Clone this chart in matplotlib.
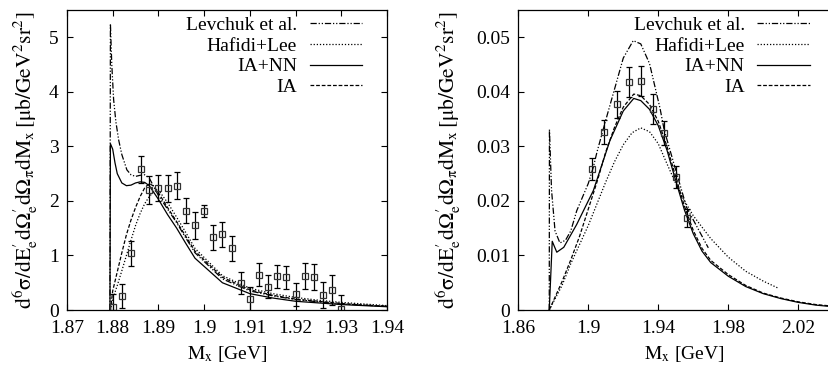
import matplotlib
matplotlib.use("Agg")
import matplotlib.pyplot as plt

# —— fonts: Times-like, as in the gnuplot original —— #
plt.rcParams['font.family'] = ['Liberation Serif', 'DejaVu Serif']
plt.rcParams['mathtext.fontset'] = 'stix'
FS = 14

# ================= left panel: data ================= #
L_DATA_X = [1.8800, 1.8821, 1.8841, 1.8861, 1.8880, 1.8900, 1.8920, 1.8941, 1.8960,
            1.8980, 1.9000, 1.9020, 1.9040, 1.9060, 1.9080, 1.9100, 1.9120, 1.9140,
            1.9160, 1.9180, 1.9200, 1.9220, 1.9240, 1.9260, 1.9280, 1.9300]
L_DATA_Y = [0.05, 0.25, 1.04, 2.58, 2.20, 2.23, 2.23, 2.28, 1.82,
            1.55, 1.82, 1.33, 1.39, 1.13, 0.50, 0.20, 0.65, 0.43,
            0.62, 0.60, 0.29, 0.62, 0.60, 0.28, 0.37, 0.01]
L_DATA_ERR = [0.24, 0.22, 0.23, 0.25, 0.25, 0.24, 0.25, 0.25, 0.23,
              0.24, 0.11, 0.23, 0.23, 0.23, 0.20, 0.22, 0.21, 0.21,
              0.21, 0.21, 0.21, 0.24, 0.24, 0.24, 0.27, 0.26]

L_LEV_X = [1.8794, 1.8795, 1.8798, 1.8802, 1.8807, 1.8813, 1.882, 1.8831, 1.884, 1.885,
           1.886, 1.887, 1.888, 1.890, 1.892, 1.894, 1.896, 1.898, 1.904, 1.910,
           1.915, 1.920, 1.925, 1.930, 1.935, 1.940]
L_LEV_Y = [0.0, 5.25, 4.50, 3.86, 3.45, 3.12, 2.85, 2.57, 2.48, 2.45,
           2.47, 2.48, 2.42, 2.10, 1.85, 1.60, 1.32, 1.05, 0.57, 0.35,
           0.26, 0.19, 0.15, 0.11, 0.09, 0.065]

L_NN_X = [1.8794, 1.8795, 1.8800, 1.8805, 1.881, 1.882, 1.883, 1.884, 1.885, 1.886,
          1.887, 1.888, 1.890, 1.892, 1.894, 1.896, 1.898, 1.904, 1.910, 1.915,
          1.920, 1.925, 1.930, 1.935, 1.940]
L_NN_Y = [0.0, 3.05, 2.95, 2.70, 2.50, 2.33, 2.28, 2.29, 2.33, 2.35,
          2.34, 2.28, 2.03, 1.75, 1.50, 1.22, 0.95, 0.50, 0.30, 0.22,
          0.16, 0.13, 0.10, 0.08, 0.06]

L_IA_X = [1.8795, 1.880, 1.881, 1.882, 1.883, 1.884, 1.885, 1.886, 1.887, 1.888,
          1.889, 1.890, 1.892, 1.894, 1.896, 1.898, 1.904, 1.910, 1.915, 1.920,
          1.925, 1.930, 1.935, 1.940]
L_IA_Y = [0.0, 0.35, 0.70, 1.05, 1.38, 1.65, 1.88, 2.08, 2.24, 2.32,
          2.27, 2.15, 1.88, 1.62, 1.35, 1.08, 0.60, 0.37, 0.27, 0.20,
          0.16, 0.12, 0.09, 0.07]

L_HL_X = [1.8795, 1.880, 1.881, 1.882, 1.883, 1.884, 1.885, 1.886, 1.887, 1.888,
          1.889, 1.890, 1.892, 1.894, 1.896, 1.898, 1.904, 1.910, 1.915, 1.920,
          1.925, 1.930, 1.935, 1.940]
L_HL_Y = [0.0, 0.20, 0.45, 0.72, 1.00, 1.28, 1.55, 1.77, 1.95, 2.08,
          2.17, 2.20, 1.97, 1.70, 1.42, 1.13, 0.63, 0.40, 0.30, 0.23,
          0.18, 0.14, 0.11, 0.08]

L_XTICKS = [1.87, 1.88, 1.89, 1.90, 1.91, 1.92, 1.93, 1.94]
L_XLABELS = ['1.87', '1.88', '1.89', '1.9', '1.91', '1.92', '1.93', '1.94']
L_YTICKS = [0, 1, 2, 3, 4, 5]
L_YLABELS = ['0', '1', '2', '3', '4', '5']

# ================= right panel: data ================= #
R_DATA_X = [1.9019, 1.9091, 1.9162, 1.9230, 1.9299, 1.9368, 1.9434, 1.9499, 1.9564]
R_DATA_Y = [0.0258, 0.0326, 0.0377, 0.0418, 0.0420, 0.0369, 0.0324, 0.0244, 0.0169]
R_DATA_ERR = [0.0020, 0.0022, 0.0025, 0.0028, 0.0028, 0.0027, 0.0022, 0.0020, 0.0016]

R_LEV_X = [1.8777, 1.8778, 1.879, 1.881, 1.8838, 1.887, 1.890, 1.8934, 1.900, 1.9029,
           1.905, 1.9105, 1.915, 1.920, 1.9257, 1.930, 1.935, 1.941, 1.9434, 1.9495,
           1.9562, 1.9686]
R_LEV_Y = [0.0, 0.0331, 0.0220, 0.0145, 0.0123, 0.0128, 0.0145, 0.0182, 0.0232, 0.0262,
           0.0290, 0.0354, 0.0405, 0.0462, 0.0494, 0.0488, 0.0452, 0.0370, 0.0330, 0.0262,
           0.0188, 0.0114]

R_NN_X = [1.8777, 1.8794, 1.882, 1.886, 1.8934, 1.9029, 1.9124, 1.920, 1.926, 1.930,
          1.935, 1.940, 1.945, 1.950, 1.955, 1.960, 1.965, 1.970, 1.980, 1.990,
          2.000, 2.010, 2.020, 2.030, 2.040, 2.050]
R_NN_Y = [0.0, 0.0126, 0.0106, 0.0115, 0.0157, 0.0219, 0.0311, 0.0365, 0.0388, 0.0384,
          0.0368, 0.0338, 0.0293, 0.0237, 0.0183, 0.0140, 0.0108, 0.0087, 0.0062, 0.0043,
          0.0030, 0.0021, 0.0014, 0.0009, 0.0006, 0.0003]

R_IA_X = [1.8777, 1.885, 1.890, 1.895, 1.900, 1.905, 1.910, 1.915, 1.920, 1.926,
          1.930, 1.935, 1.940, 1.945, 1.950, 1.955, 1.960, 1.965, 1.970, 1.980,
          1.990, 2.000, 2.010, 2.020, 2.030, 2.040, 2.050]
R_IA_Y = [0.0, 0.0052, 0.0092, 0.0135, 0.0185, 0.0235, 0.0290, 0.0335, 0.0372, 0.0396,
          0.0393, 0.0377, 0.0346, 0.0300, 0.0244, 0.0190, 0.0146, 0.0113, 0.0091, 0.0065,
          0.0045, 0.0031, 0.0022, 0.0015, 0.0010, 0.0007, 0.0004]

R_HL_X = [1.8777, 1.885, 1.890, 1.895, 1.900, 1.905, 1.910, 1.915, 1.920, 1.925,
          1.930, 1.935, 1.940, 1.945, 1.950, 1.955, 1.960, 1.965, 1.970, 1.975,
          1.980, 1.990, 2.000, 2.0086]
R_HL_Y = [0.0, 0.0045, 0.0085, 0.0120, 0.0155, 0.0195, 0.0235, 0.0272, 0.0303, 0.0325,
          0.0334, 0.0327, 0.0305, 0.0268, 0.0232, 0.0200, 0.0173, 0.0152, 0.0131, 0.0114,
          0.0097, 0.0071, 0.0053, 0.0040]

R_XTICKS = [1.86, 1.90, 1.94, 1.98, 2.02]
R_XLABELS = ['1.86', '1.9', '1.94', '1.98', '2.02']
R_YTICKS = [0, 0.01, 0.02, 0.03, 0.04, 0.05]
R_YLABELS = ['0', '0.01', '0.02', '0.03', '0.04', '0.05']

LEGEND_NAMES = ['Levchuk et al.', 'Hafidi+Lee', 'IA+NN', 'IA']

# line styles (gnuplot-ish)
LS_LEV = (0, (5, 1.5, 1, 1.5, 1, 1.5))
LS_HL = (0, (1, 1.5))
LS_NN = '-'
LS_IA = (0, (3, 1.5))
LW = 0.9

YLABEL = (r"$\mathrm{d^6\sigma/dE^{\prime}_{e}d\Omega^{\prime}_{e}d\Omega_{\pi}dM_{x}\,"
          r"[\mu b/GeV^{2}sr^{2}]}$")
XLABEL = r"$\mathrm{M_x}$ [GeV]"


def style_axes(ax, xticks, xlabels, yticks, ylabels, ylabelpad):
    ax.set_xticks(xticks)
    ax.set_xticklabels(xlabels)
    ax.set_yticks(yticks)
    ax.set_yticklabels(ylabels)
    ax.tick_params(direction='in', top=True, right=True, length=4, width=0.8,
                   labelsize=FS)
    ax.tick_params(axis='x', pad=7)
    ax.tick_params(axis='y', pad=6)
    for s in ax.spines.values():
        s.set_linewidth(0.9)
    ax.set_xlabel(XLABEL, fontsize=FS, labelpad=5)
    ax.set_ylabel(YLABEL, fontsize=15.5, labelpad=ylabelpad)


def draw_panel(ax, lev, hl, nn, ia, data, legend_x):
    ax.plot(lev[0], lev[1], color='black', lw=LW, ls=LS_LEV, label=LEGEND_NAMES[0])
    ax.plot(hl[0], hl[1], color='black', lw=LW, ls=LS_HL, label=LEGEND_NAMES[1])
    ax.plot(nn[0], nn[1], color='black', lw=LW, ls=LS_NN, label=LEGEND_NAMES[2])
    ax.plot(ia[0], ia[1], color='black', lw=LW, ls=LS_IA, label=LEGEND_NAMES[3])
    ax.errorbar(data[0], data[1], yerr=data[2], fmt='s', ms=5, mfc='none',
                mec='#333333', mew=0.9, ecolor='black', elinewidth=0.9,
                capsize=2.5, capthick=0.9)
    ax.legend(loc='upper right', bbox_to_anchor=(legend_x, 0.978),
              frameon=False, markerfirst=False, fontsize=FS,
              handlelength=2.7, handletextpad=0.65, labelspacing=0.15,
              borderaxespad=0.0, borderpad=0.0)


fig = plt.figure(figsize=(8.29, 3.68), dpi=100)

# 1) left panel
axL = fig.add_axes([0.0808, 0.1576, 0.386, 0.815])
draw_panel(axL, (L_LEV_X, L_LEV_Y), (L_HL_X, L_HL_Y), (L_NN_X, L_NN_Y),
           (L_IA_X, L_IA_Y), (L_DATA_X, L_DATA_Y, L_DATA_ERR), 0.922)
axL.set_xlim(1.87, 1.94)
axL.set_ylim(0, 5.5)
style_axes(axL, L_XTICKS, L_XLABELS, L_YTICKS, L_YLABELS, 6)

# 2) right panel (runs past the right edge of the figure, as in the original)
axR = fig.add_axes([0.6252, 0.1576, 0.401, 0.815])
draw_panel(axR, (R_LEV_X, R_LEV_Y), (R_HL_X, R_HL_Y), (R_NN_X, R_NN_Y),
           (R_IA_X, R_IA_Y), (R_DATA_X, R_DATA_Y, R_DATA_ERR), 0.877)
axR.set_xlim(1.86, 2.05)
axR.set_ylim(0, 0.055)
style_axes(axR, R_XTICKS, R_XLABELS, R_YTICKS, R_YLABELS, 9)

fig.savefig('out.png', dpi=100)
